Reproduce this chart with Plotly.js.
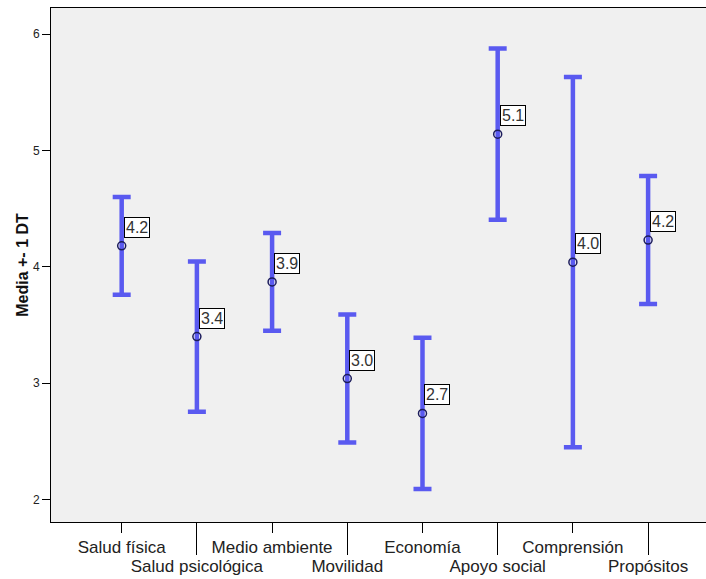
<!DOCTYPE html>
<html>
<head>
<meta charset="utf-8">
<script src="https://cdn.plot.ly/plotly-3.0.1.min.js"></script>
<style>
  html, body { margin: 0; padding: 0; background: #ffffff; }
  #chart { width: 706px; height: 579px; }
</style>
</head>
<body>
<div id="chart"></div>
<script>
// ---- data ----
const categories = ["Salud física", "Salud psicológica", "Medio ambiente", "Movilidad",
                    "Economía", "Apoyo social", "Comprensión", "Propósitos"];
const means = [4.18, 3.40, 3.87, 3.04, 2.74, 5.14, 4.04, 4.23];
const sds   = [0.42, 0.645, 0.42, 0.55, 0.65, 0.735, 1.59, 0.55];
const yTickValues = [2, 3, 4, 5, 6];

const idx = categories.map((c, i) => i);
const evenIdx = idx.filter(i => i % 2 === 0);
const oddIdx = idx.filter(i => i % 2 === 1);

const FONT = "Liberation Sans, Arial, sans-serif";
const BLUE = "#5a5af0";

const trace = {
  type: "scatter",
  mode: "markers",
  x: idx,
  y: means,
  xaxis: "x",
  yaxis: "y",
  marker: { symbol: "circle-open", size: 8, color: "#1c1c5c", line: { width: 1.5, color: "#1c1c5c" } },
  error_y: { type: "data", array: sds, visible: true, symmetric: true, color: BLUE, thickness: 4.5, width: 9 },
  hoverinfo: "skip",
  showlegend: false
};

// dummy trace to activate the second x axis (long-tick staggered labels)
const trace2 = {
  type: "scatter", mode: "markers", x: [idx[0]], y: [means[0]],
  xaxis: "x2", yaxis: "y", marker: { opacity: 0 }, hoverinfo: "skip", showlegend: false
};

const annotations = idx.map(i => ({
  x: i, y: means[i], xref: "x", yref: "y",
  text: means[i].toFixed(1),
  showarrow: false,
  xanchor: "left", yanchor: "bottom",
  xshift: 2, yshift: 8,
  bgcolor: "#ffffff", bordercolor: "#000000", borderwidth: 1, borderpad: 1,
  font: { family: FONT, size: 16, color: "#333333" }
}));

const xRange = [-0.94, 7.77];

const layout = {
  width: 706, height: 579,
  margin: { l: 51, r: 0, t: 8, b: 57, pad: 0 },
  paper_bgcolor: "#ffffff",
  plot_bgcolor: "#f0f0f0",
  font: { family: FONT, color: "#222222" },
  xaxis: {
    range: xRange, showgrid: false, zeroline: false,
    showline: true, linecolor: "#000000", linewidth: 1, mirror: true,
    tickmode: "array", tickvals: evenIdx, ticktext: evenIdx.map(i => categories[i]),
    ticks: "outside", ticklen: 10, tickcolor: "#000000", tickwidth: 1,
    tickfont: { family: FONT, size: 17, color: "#222222" }
  },
  xaxis2: {
    range: xRange, overlaying: "x", side: "bottom", anchor: "y",
    showgrid: false, zeroline: false, showline: false,
    tickmode: "array", tickvals: oddIdx, ticktext: oddIdx.map(i => categories[i]),
    ticks: "outside", ticklen: 32, tickcolor: "#000000", tickwidth: 1,
    tickfont: { family: FONT, size: 17, color: "#222222" },
    ticklabelstandoff: -3
  },
  yaxis: {
    range: [1.807, 6.224], showgrid: false, zeroline: false,
    showline: true, linecolor: "#000000", linewidth: 1,
    tickmode: "array", tickvals: yTickValues,
    ticks: "outside", ticklen: 8, tickcolor: "#000000", tickwidth: 1,
    tickfont: { family: FONT, size: 12, color: "#222222" },
    title: { text: "<b>Media +- 1 DT</b>", font: { family: FONT, size: 16, color: "#111111" }, standoff: 0 }
  },
  annotations: annotations
};

Plotly.newPlot("chart", [trace, trace2], layout, { displayModeBar: false, staticPlot: true });
</script>
</body>
</html>
